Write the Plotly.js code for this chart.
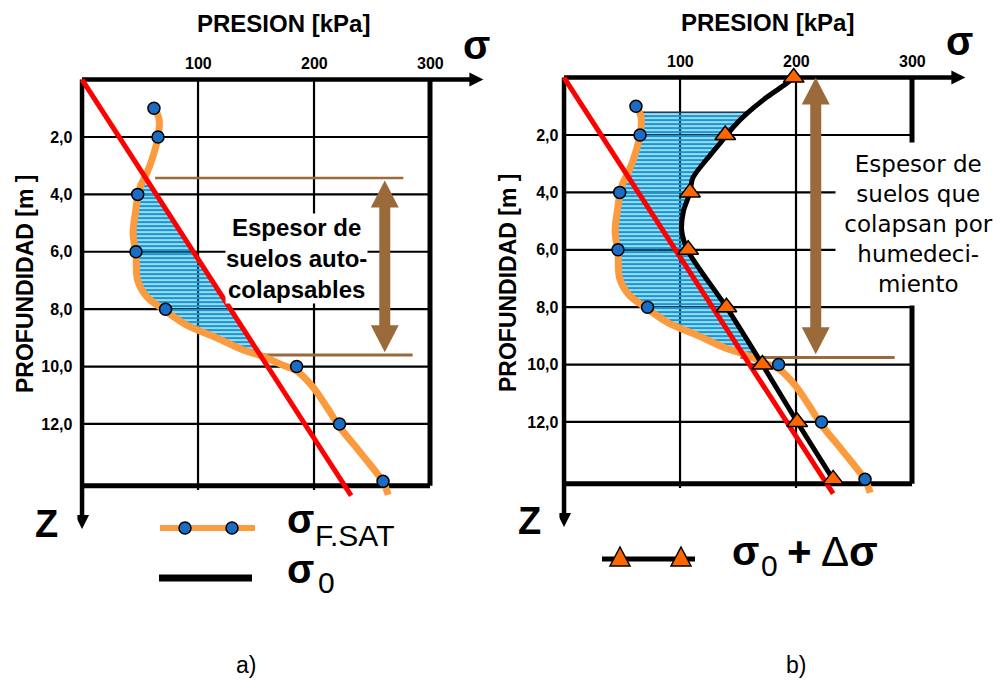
<!DOCTYPE html>
<html><head><meta charset="utf-8">
<script src="https://cdn.plot.ly/plotly-3.0.1.min.js"></script>
<style>html,body{margin:0;padding:0;background:#fff}#chart{width:1000px;height:688px}</style>
</head><body><div id="chart"></div>
<script>
// ---------------- data ----------------
const depthTicks = [2, 4, 6, 8, 10, 12];
const depthTickLabels = ['2,0', '4,0', '6,0', '8,0', '10,0', '12,0'];
const pressureTicks = [100, 200, 300];
const pressureTickLabels = ['100', '200', '300'];

// sigma F.SAT : measured points (depth m, pressure kPa)
const satDepth = [1, 2, 4, 6, 8, 10, 12, 14];
const satPressure = [62, 65.5, 48, 46.5, 72, 185, 222, 259.5];
// sigma F.SAT : drawn curve
const satCurveDepth = [0.96, 1.4, 2.0, 2.7, 3.25, 3.75, 4.1, 4.65, 5.35, 6.08, 7.0, 7.57, 8.06, 8.55, 9.0, 9.42, 9.63, 9.95, 10.15, 10.71, 11.41, 12.1, 13.0, 14.02, 14.47];
const satCurvePressure = [62, 66.5, 65.5, 61, 56, 50, 48, 46, 44, 46.5, 48, 56, 72, 90, 116, 139, 155, 173, 185, 199, 211, 222, 240, 259.5, 264];

// sigma 0 (geostatic)
const sigma0Depth = [0, 14.5];
const sigma0Pressure = [0, 232];

// sigma 0 + delta sigma : points and drawn curve
const loadDepth = [0, 2, 4, 6, 8, 10, 12, 14];
const loadPressure = [198, 139, 108.6, 107, 140, 171, 201, 232];
const loadCurveDepth = [0, 0.2, 0.68, 1.24, 1.72, 2.07, 2.7, 3.5, 4.0, 4.65, 5.35, 6.05, 8.0, 10.0, 12.0, 14.0];
const loadCurvePressure = [198, 192, 175, 158, 146, 139, 126, 111, 108.6, 103, 101.5, 107, 140, 171, 201, 232];

// collapsing layers (depth from, depth to)
const collapseA = [3.43, 9.63];   // panel a: self-collapsing soils
const collapseB = [1.2, 9.85];    // panel b: hatched zone
const arrowA = [3.52, 9.5];       // panel a thickness arrow
const arrowB = [0.0, 9.64];       // panel b thickness arrow
const limitLineA = [3.43, 9.6];
const limitLineB = [9.75];

// ---------------- helpers ----------------
function interpAt(ds, vs, d) {
  for (let i = 0; i < ds.length - 1; i++) {
    if (d >= ds[i] && d <= ds[i + 1]) {
      const t = (d - ds[i]) / (ds[i + 1] - ds[i]);
      return vs[i] + t * (vs[i + 1] - vs[i]);
    }
  }
  return vs[vs.length - 1];
}
function segment(ds, vs, d0, d1) {
  const x = [interpAt(ds, vs, d0)], y = [d0];
  for (let i = 0; i < ds.length; i++) if (ds[i] > d0 && ds[i] < d1) { x.push(vs[i]); y.push(ds[i]); }
  x.push(interpAt(ds, vs, d1)); y.push(d1);
  return {x, y};
}
function polygon(a, b) {
  return {x: a.x.concat(b.x.slice().reverse()).concat([a.x[0]]), y: a.y.concat(b.y.slice().reverse()).concat([a.y[0]])};
}

const ORANGE = '#fb9b3e', BLUE = '#1a6cc4', RED = '#ff0000', BROWN = '#9a6a3a', HATCH = '#119ad8', TRI = '#ff6600';
const FONT = 'Liberation Sans, Arial, sans-serif';

const fillA = polygon(segment(satCurveDepth, satCurvePressure, collapseA[0], collapseA[1]),
                      segment(sigma0Depth, sigma0Pressure, collapseA[0], collapseA[1]));
const fillB = polygon(segment(satCurveDepth, satCurvePressure, collapseB[0], collapseB[1]),
                      segment(loadCurveDepth, loadCurvePressure, collapseB[0], collapseB[1]));

function hatch(p, xa, ya, outline) {
  return {x: p.x, y: p.y, xaxis: xa, yaxis: ya, mode: 'lines', fill: 'toself', fillcolor: 'rgba(0,0,0,0)',
    fillpattern: {shape: '-', fgcolor: HATCH, bgcolor: 'rgba(255,255,255,0)', size: 4, solidity: 0.7},
    line: {width: outline ? 1.2 : 0, color: '#222'}, hoverinfo: 'skip', showlegend: false};
}
function satLine(xa, ya) {
  return {x: satCurvePressure, y: satCurveDepth, xaxis: xa, yaxis: ya, mode: 'lines',
    line: {color: ORANGE, width: 7, shape: 'spline', smoothing: 1}, showlegend: false};
}
function satPts(xa, ya) {
  return {x: satPressure, y: satDepth, xaxis: xa, yaxis: ya, mode: 'markers', cliponaxis: false,
    marker: {color: BLUE, size: 12, line: {color: '#000', width: 1.5}}, showlegend: false};
}
function s0Line(xa, ya) {
  return {x: sigma0Pressure, y: sigma0Depth, xaxis: xa, yaxis: ya, mode: 'lines',
    line: {color: RED, width: 5}, showlegend: false};
}

const traces = [
  hatch(fillA, 'x', 'y', false),
  satLine('x', 'y'),
  s0Line('x', 'y'),
  satPts('x', 'y'),

  hatch(fillB, 'x2', 'y2', true),
  satLine('x2', 'y2'),
  {x: loadCurvePressure, y: loadCurveDepth, xaxis: 'x2', yaxis: 'y2', mode: 'lines',
   line: {color: '#000', width: 5, shape: 'spline', smoothing: 0.8}, showlegend: false},
  s0Line('x2', 'y2'),
  {x: loadPressure, y: loadDepth, xaxis: 'x2', yaxis: 'y2', mode: 'markers', cliponaxis: false,
   marker: {symbol: 'triangle-up', color: TRI, size: 18, line: {color: '#000', width: 1.5}}, showlegend: false},
  satPts('x2', 'y2'),
];

// ---------------- shapes ----------------
const shapes = [];
const BOTTOM = 14.15, XMAXBOX = 300, ARROWX = 346, ARROWY = 15.66;
function ln(xr, yr, x0, y0, x1, y1, color, width) {
  shapes.push({type: 'line', xref: xr, yref: yr, x0, y0, x1, y1, layer: 'below', line: {color, width}});
}
function pth(xr, yr, xa, ya, path, color) {
  shapes.push({type: 'path', xref: xr, yref: yr, xsizemode: 'pixel', ysizemode: 'pixel', xanchor: xa, yanchor: ya,
    path, fillcolor: color, line: {width: 0}, layer: 'below'});
}
function frame(xr, yr) {
  depthTicks.forEach(d => ln(xr, yr, 0, d, XMAXBOX, d, '#000', 2.2));
  pressureTicks.slice(0, 2).forEach(p => ln(xr, yr, p, 0, p, 14.3, '#000', 2.2));
  ln(xr, yr, 0, 0, ARROWX - 10, 0, '#000', 4.5);
  pth(xr, yr, ARROWX, 0, 'M 0 0 L -14 7 L -14 -7 Z', '#000');
  ln(xr, yr, 0, 0, 0, ARROWY - 0.4, '#000', 4.5);
  pth(xr, yr, 0, ARROWY, 'M 0 0 L 7 14 L -7 14 Z', '#000');
  ln(xr, yr, XMAXBOX, 0, XMAXBOX, BOTTOM, '#000', 5);
  ln(xr, yr, 0, BOTTOM, XMAXBOX, BOTTOM, '#000', 5);
}
frame('x', 'y');
frame('x2', 'y2');
function bigArrow(xr, yr, x, d0, d1) {
  ln(xr, yr, x, d0 + 0.8, x, d1 - 0.8, BROWN, 11);
  pth(xr, yr, x, d0, 'M 0 0 L 14 -27 L -14 -27 Z', BROWN);
  pth(xr, yr, x, d1, 'M 0 0 L 14 27 L -14 27 Z', BROWN);
}
// panel a
ln('x', 'y', 63, limitLineA[0], 277, limitLineA[0], BROWN, 2.5);
ln('x', 'y', 155, limitLineA[1], 285, limitLineA[1], BROWN, 3);
bigArrow('x', 'y', 261, arrowA[0], arrowA[1]);
// panel b
ln('x2', 'y2', 152, limitLineB[0], 285, limitLineB[0], BROWN, 3);
bigArrow('x2', 'y2', 217, arrowB[0], arrowB[1]);

// legend samples (paper coords)
const px = v => v / 1000, py = v => 1 - v / 688;
function pln(x0, y0, x1, y1, color, width) {
  shapes.push({type: 'line', xref: 'paper', yref: 'paper', x0: px(x0), y0: py(y0), x1: px(x1), y1: py(y1), line: {color, width}});
}
function pcircle(x, y) {
  shapes.push({type: 'circle', xref: 'paper', yref: 'paper', xsizemode: 'pixel', ysizemode: 'pixel', xanchor: px(x), yanchor: py(y),
    x0: -6, x1: 6, y0: -6, y1: 6, fillcolor: BLUE, line: {color: '#000', width: 1.5}});
}
function ptri(x, y) {
  shapes.push({type: 'path', xref: 'paper', yref: 'paper', xsizemode: 'pixel', ysizemode: 'pixel', xanchor: px(x), yanchor: py(y),
    path: 'M -10 -9 L 10 -9 L 0 10 Z', fillcolor: TRI, line: {color: '#000', width: 1.5}});
}
pln(160, 528, 255, 528, ORANGE, 6); pcircle(185, 528); pcircle(232, 528);
pln(159, 578, 252, 578, '#000', 7);
pln(602, 559, 695, 559, '#000', 5); ptri(620, 557); ptri(681, 557);

// ---------------- annotations ----------------
const ann = [];
function t(x, y, text, size, opts) {
  ann.push(Object.assign({xref: 'paper', yref: 'paper', x: px(x), y: py(y), text, showarrow: false,
    xanchor: 'center', yanchor: 'middle', font: {family: FONT, size, color: '#000'}}, opts || {}));
}
const bold = (s) => '<b>' + s + '</b>';
// titles
t(283, 24, bold('PRESION [kPa]'), 24);
t(767, 23, bold('PRESION [kPa]'), 24);
t(476, 45, bold('σ'), 40); t(959, 41, bold('σ'), 40);
// x tick labels
pressureTicks.forEach((p, i) => {
  ann.push({xref: 'x', yref: 'paper', x: p, y: py(64), xanchor: 'center', yanchor: 'middle', text: bold(pressureTickLabels[i]),
    showarrow: false, font: {family: FONT, size: 16, color: '#000'}});
  ann.push({xref: 'x2', yref: 'paper', x: p, y: py(62), xanchor: 'center', yanchor: 'middle', text: bold(pressureTickLabels[i]),
    showarrow: false, font: {family: FONT, size: 16, color: '#000'}});
});
// y titles
t(25, 284, bold('PROFUNDIDAD [m ]'), 23, {textangle: -90});
t(508, 283, bold('PROFUNDIDAD [m ]'), 23, {textangle: -90});
t(46, 524, bold('Z'), 38); t(529, 521, bold('Z'), 38);
// zone texts
t(296, 258, bold('Espesor de<br>suelos auto-<br>colapsables'), 24, {bgcolor: '#fff', borderpad: 0});
t(918, 224, 'Espesor de<br>suelos que<br>colapsan por<br>humedeci-<br>miento', 23,
  {bgcolor: '#fff', width: 165, height: 162, borderpad: 0, font: {family: 'DejaVu Sans', size: 23, color: '#000'}});
// legends
t(300, 519, bold('σ'), 40); t(313, 535, 'F.SAT', 30, {xanchor: 'left'});
t(300, 569, bold('σ'), 40); t(316, 582, '0', 30, {xanchor: 'left'});
t(745, 551, bold('σ'), 40); t(759, 565, '0', 30, {xanchor: 'left'});
t(785, 551, '<b>+</b> Δ<b>σ</b>', 42, {xanchor: 'left'});
// panel labels
t(246, 665, 'a)', 23); t(796, 665, 'b)', 23);

// ---------------- layout ----------------
const xa = (dom) => ({domain: dom, range: [-4, 350], showgrid: false, zeroline: false, showline: false,
  showticklabels: false, ticks: '', fixedrange: true});
const ya = (dom, standoff) => ({domain: dom, range: [15.9, -0.4], showgrid: false, zeroline: false, showline: false,
  tickmode: 'array', tickvals: depthTicks, ticktext: depthTickLabels, ticks: '', ticklabelstandoff: standoff,
  tickfont: {family: FONT, size: 16, color: '#000', weight: 700}, fixedrange: true});

const layout = {
  width: 1000, height: 688, margin: {l: 0, r: 0, t: 0, b: 0, pad: 0},
  paper_bgcolor: '#fff', plot_bgcolor: 'rgba(0,0,0,0)', showlegend: false,
  xaxis: xa([0.0774, 0.4880]), yaxis: ya([0.2211, 0.9010], 4),
  xaxis2: Object.assign(xa([0.5594, 0.9700]), {anchor: 'y2'}),
  yaxis2: Object.assign(ya([0.2240, 0.9039], 0), {anchor: 'x2'}),
  shapes, annotations: ann,
};
layout.xaxis.anchor = 'y';
layout.yaxis.anchor = 'x';

Plotly.newPlot('chart', traces, layout, {displayModeBar: false, staticPlot: true});
</script>
</body></html>
